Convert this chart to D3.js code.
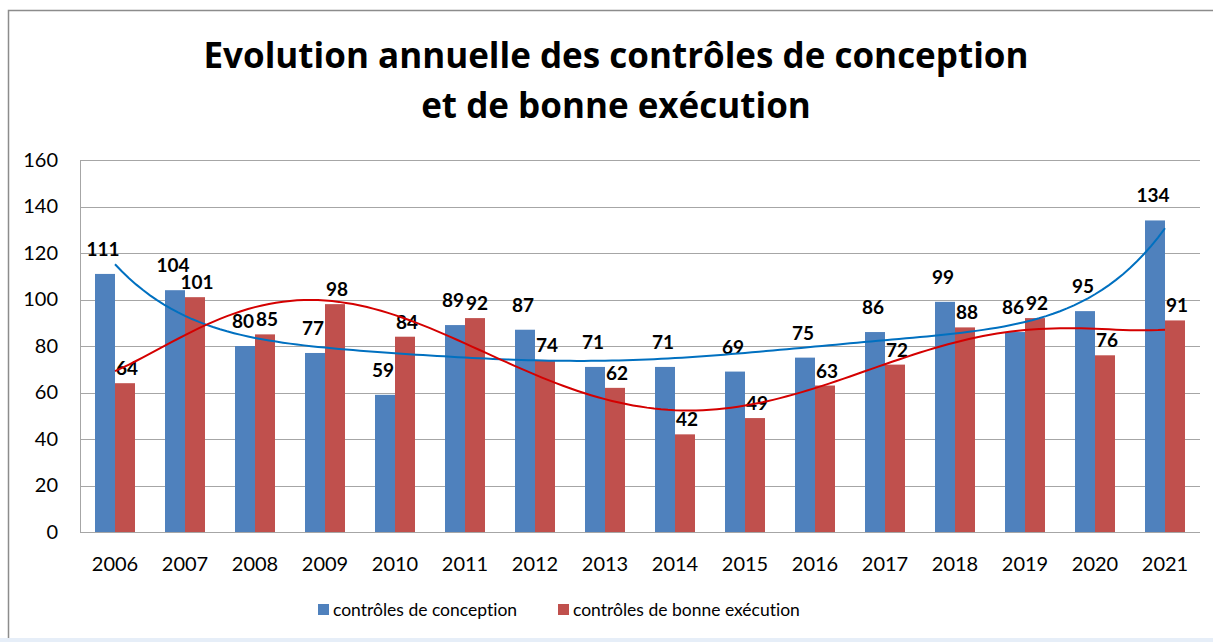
<!DOCTYPE html>
<html>
<head>
<meta charset="utf-8">
<script src="https://cdn.jsdelivr.net/npm/d3@7/dist/d3.min.js"></script>
<style>
  body { margin: 0; background: #fff; }
  text { font-family: Lato, "Open Sans", sans-serif; font-variant-ligatures: none; }
</style>
</head>
<body>
<script>
const years = ['2006', '2007', '2008', '2009', '2010', '2011', '2012', '2013',
    '2014', '2015', '2016', '2017', '2018', '2019', '2020', '2021'];
const conception = [111, 104, 80, 77, 59, 89, 87, 71, 71, 69, 75, 86, 99, 86, 95, 134];
const execution = [64, 101, 85, 98, 84, 92, 74, 62, 42, 49, 63, 72, 88, 92, 76, 91];
const yTicks = [0, 20, 40, 60, 80, 100, 120, 140, 160];
const seriesNames = ['contrôles de conception', 'contrôles de bonne exécution'];

const width = 1213;
const height = 642;
const margin = { top: 160, left: 80, bottom: 110, right: 13 };
const barColors = ['#4F81BD', '#C0504D'];
const trendColors = ['#0070C0', '#D40000'];

const svg = d3.select('body')
    .append('svg')
    .attr('width', width)
    .attr('height', height);

// chart frame
svg.append('rect')
    .attr('x', 8.5).attr('y', 10.5)
    .attr('width', width).attr('height', height)
    .attr('fill', '#fff')
    .attr('stroke', '#8c8c8c')
    .attr('stroke-width', 1.5);
svg.append('rect')
    .attr('x', 0).attr('y', 638)
    .attr('width', width).attr('height', 4)
    .attr('fill', '#e6eef8');

['Evolution annuelle des contrôles de conception', 'et de bonne exécution'].forEach((line, i) => {
    svg.append('text')
        .attr('x', 616).attr('y', 68 + i * 50)
        .attr('text-anchor', 'middle')
        .style('font-family', '"Open Sans", sans-serif')
        .attr('font-size', 35).attr('font-weight', 'bold')
        .text(line);
});

const scaleX = d3.scaleBand().domain(years).range([margin.left, width - margin.right]);
const scaleY = d3.scaleLinear().domain([0, 160]).range([height - margin.bottom, margin.top]);
const barWidth = 20;

// gridlines
svg.append('g')
    .selectAll('line')
    .data(yTicks)
    .enter()
    .append('line')
    .attr('x1', margin.left).attr('x2', width - margin.right)
    .attr('y1', (d) => Math.round(scaleY(d)) + 0.5)
    .attr('y2', (d) => Math.round(scaleY(d)) + 0.5)
    .attr('stroke', '#a6a6a6');

svg.append('line')
    .attr('x1', margin.left + 0.5).attr('x2', margin.left + 0.5)
    .attr('y1', scaleY(160)).attr('y2', scaleY(0))
    .attr('stroke', '#a6a6a6');

// axes labels
const yAxis = d3.axisLeft(scaleY).tickValues(yTicks).tickSize(0).tickPadding(22);
svg.append('g')
    .attr('transform', `translate(${margin.left}, 0)`)
    .call(yAxis)
    .call((g) => g.select('.domain').remove())
    .selectAll('text')
    .attr('font-size', 20)
    .attr('fill', '#000');

const xAxis = d3.axisBottom(scaleX).tickSize(0).tickPadding(25);
svg.append('g')
    .attr('transform', `translate(0, ${scaleY(0)})`)
    .call(xAxis)
    .call((g) => g.select('.domain').remove())
    .selectAll('text')
    .attr('font-size', 20)
    .attr('fill', '#000');

// bars
const rows = years.map((year, i) => ({ year, values: [conception[i], execution[i]] }));
const barGroup = svg.append('g')
    .selectAll('g')
    .data(rows)
    .enter()
    .append('g')
    .attr('transform', (row) => `translate(${scaleX(row.year) + scaleX.bandwidth() / 2}, 0)`);

barGroup.selectAll('rect')
    .data((row) => row.values.map((value, s) => ({ value, s })))
    .enter()
    .append('rect')
    .attr('x', (d) => (d.s === 0 ? -barWidth : 0))
    .attr('y', (d) => scaleY(d.value))
    .attr('width', barWidth)
    .attr('height', (d) => scaleY(0) - scaleY(d.value))
    .attr('fill', (d) => barColors[d.s]);

// polynomial trend lines, order 6 least squares like Excel
function polyFit(ys, degree) {
    const n = degree + 1;
    const A = [];
    for (let r = 0; r < n; r++) {
        A.push(new Array(n + 1).fill(0));
    }
    ys.forEach((y, i) => {
        const x = i + 1;
        for (let r = 0; r < n; r++) {
            for (let c = 0; c < n; c++) A[r][c] += Math.pow(x, r + c);
            A[r][n] += y * Math.pow(x, r);
        }
    });
    for (let c = 0; c < n; c++) {
        let p = c;
        for (let r = c + 1; r < n; r++) if (Math.abs(A[r][c]) > Math.abs(A[p][c])) p = r;
        [A[c], A[p]] = [A[p], A[c]];
        for (let r = 0; r < n; r++) {
            if (r === c) continue;
            const f = A[r][c] / A[c][c];
            for (let k = c; k <= n; k++) A[r][k] -= f * A[c][k];
        }
    }
    const coef = A.map((row, i) => row[n] / row[i]);
    return (x) => coef.reduce((s, a, i) => s + a * Math.pow(x, i), 0);
}

const step = scaleX.step();
const xOf = (x) => scaleX(years[0]) + scaleX.bandwidth() / 2 + (x - 1) * step;
[conception, execution].forEach((series, s) => {
    const f = polyFit(series, 6);
    const pts = d3.range(1, years.length + 0.001, 0.1).map((x) => [xOf(x), scaleY(f(x))]);
    svg.append('path')
        .attr('d', d3.line()(pts))
        .attr('fill', 'none')
        .attr('stroke', trendColors[s])
        .attr('stroke-width', 2);
});

// data labels
barGroup.selectAll('text.val')
    .data((row) => row.values.map((value, s) => ({ value, s })))
    .enter()
    .append('text')
    .attr('class', 'val')
    .attr('x', (d) => (d.s === 0 ? -barWidth / 2 - 2 : barWidth / 2 + 2))
    .attr('y', (d) => scaleY(d.value) - (d.s === 0 ? 18 : 8))
    .attr('text-anchor', 'middle')
    .attr('font-size', 19)
    .attr('font-weight', 'bold')
    .text((d) => d.value);

// legend
const legend = svg.append('g').attr('transform', 'translate(318, 0)');
const legendX = [0, 240];
seriesNames.forEach((name, s) => {
    legend.append('rect')
        .attr('x', legendX[s]).attr('y', 604)
        .attr('width', 11).attr('height', 11)
        .attr('fill', barColors[s]);
    legend.append('text')
        .attr('x', legendX[s] + 15).attr('y', 616)
        .attr('font-size', 17.5)
        .text(name);
});
</script>
</body>
</html>
